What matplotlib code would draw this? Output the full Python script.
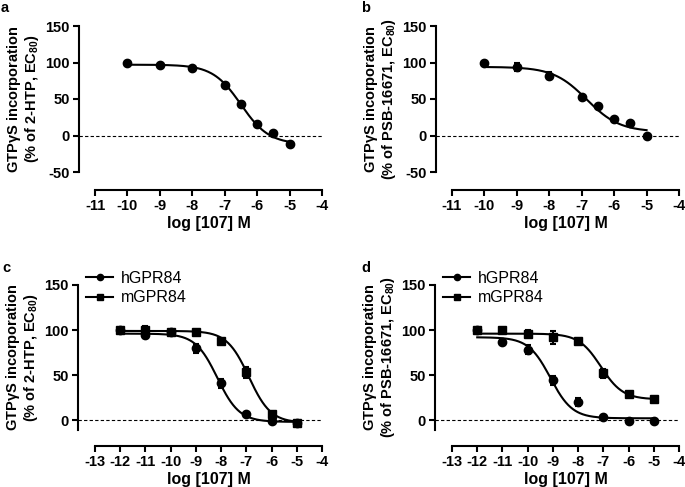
import numpy as np
import matplotlib
matplotlib.use("Agg")
import matplotlib.pyplot as plt

plt.rcParams['font.family'] = ['Liberation Sans', 'DejaVu Sans']
plt.rcParams['font.weight'] = 'bold'
plt.rcParams['mathtext.fontset'] = 'custom'
plt.rcParams['mathtext.bf'] = 'Liberation Sans:bold'
plt.rcParams['mathtext.rm'] = 'Liberation Sans'

# panel a: 2-HTP as agonist
a_x = [-10, -9, -8, -7, -6.5, -6, -5.5, -5]
a_y = [100, 97, 93, 69, 43, 16, 3, -12]
a_fit = [97, -12, -6.5, 1.0]  # top, bottom, logIC50, hill

# panel b: PSB-16671 as agonist
b_x = [-10, -9, -8, -7, -6.5, -6, -5.5, -5]
b_y = [100, 94, 82, 53, 40, 22, 17, 0]
b_err = [0, 5, 5, 0, 0, 0, 0, 0]
b_fit = [94, 5, -6.85, 0.85]

# panels c, d: human vs mouse
cd_x = [-12, -11, -10, -9, -8, -7, -6, -5]
c_h = [100, 95, 98, 80, 41, 7, -1, -3]
c_h_err = [0, 4, 0, 5, 5, 0, 0, 0]
c_m = [100, 100, 98, 98, 88, 53, 7, -3]
c_m_err = [0, 5, 0, 0, 0, 6, 0, 2]
c_h_fit = [96, -2, -8.15, 1.0]
c_m_fit = [99, -3, -6.9, 1.0]

d_h = [100, 87, 78, 44, 20, 3, -1, -1]
d_h_err = [0, 0, 5, 5, 4, 0, 0, 0]
d_m = [100, 100, 96, 92, 88, 52, 29, 23]
d_m_err = [0, 0, 4, 7, 0, 5, 0, 0]
d_h_fit = [92, 2, -9.1, 1.0]
d_m_fit = [96, 23, -7.1, 1.0]


def logistic(x, p):
    top, bottom, ic50, h = p
    return bottom + (top - bottom) / (1 + 10 ** ((x - ic50) * h))


W, H = 685, 487
fig = plt.figure(figsize=(W / 100, H / 100), dpi=100)


def make_ax(x0, x1, ytop, ybot, yspine, xspine_y, xlim, ylim, yticks, ylabel2):
    ax = fig.add_axes([x0 / W, 1 - ybot / H, (x1 - x0) / W, (ybot - ytop) / H])
    ax.set_xlim(*xlim)
    ax.set_ylim(*ylim)
    ax.spines['top'].set_visible(False)
    ax.spines['right'].set_visible(False)
    ax.spines['left'].set_position(('outward', (x0 - yspine) * 0.72))
    ax.spines['bottom'].set_position(('outward', (xspine_y - ybot) * 0.72))
    for s in ('left', 'bottom'):
        ax.spines[s].set_linewidth(1.5)
    ax.tick_params(width=1.5, length=4.5, labelsize=10.5, pad=2)
    ax.set_xticks(range(xlim[0], xlim[1] + 1))
    ax.set_yticks(yticks)
    ax.set_xticklabels([str(t) for t in range(xlim[0], xlim[1] + 1)], fontweight='bold')
    ax.set_yticklabels([str(t) for t in yticks], fontweight='bold')
    ax.set_xlabel("log [107] M", fontsize=11.5, fontweight='bold', labelpad=2)
    ax.set_ylabel("GTP$\\mathregular{\\gamma}$S incorporation\n(% of " + ylabel2 + ", EC$_\\mathbf{80}$)",
                  fontsize=10.5, fontweight='bold', linespacing=1.05, labelpad=3)
    frac = (yspine - x0) / (x1 - x0)
    ax.axhline(0, xmin=frac, xmax=1, color='black', lw=0.8, ls=(0, (3, 2)), clip_on=False, zorder=0)
    return ax


mk = dict(color='black', ms=6, capsize=2.5, elinewidth=1.5, capthick=1.5, ls='none')


def add_legend(ax):
    hh, = ax.plot([], [], 'o-', color='black', ms=4.5, lw=1.5)
    mh, = ax.plot([], [], 's-', color='black', ms=4.5, lw=1.5)
    ax.legend([hh, mh], ["hGPR84", "mGPR84"], loc='upper left', bbox_to_anchor=(-0.075, 1.155),
              frameon=False, handlelength=1.7, handletextpad=0.5, borderpad=0, labelspacing=0.3,
              prop={'size': 11.5, 'weight': 'normal'})


# a
ax = make_ax(95, 322, 26, 172, 79, 190, (-11, -4), (-50, 150), [-50, 0, 50, 100, 150], "2-HTP")
xs = np.linspace(-10, -5, 200)
ax.plot(xs, logistic(xs, a_fit), color='black', lw=1.5)
ax.plot(a_x, a_y, 'o', color='black', ms=6)

# b
ax = make_ax(452, 679, 26, 172, 436, 190, (-11, -4), (-50, 150), [-50, 0, 50, 100, 150], "PSB-16671")
ax.plot(xs, logistic(xs, b_fit), color='black', lw=1.5)
ax.errorbar(b_x, b_y, yerr=b_err, marker='o', **mk)

# c
xs2 = np.linspace(-12, -5, 300)
ax = make_ax(95, 322, 285, 430, 78, 446, (-13, -4), (-11, 150), [0, 50, 100, 150], "2-HTP")
ax.plot(xs2, logistic(xs2, c_h_fit), color='black', lw=1.5)
ax.plot(xs2, logistic(xs2, c_m_fit), color='black', lw=1.5)
ax.errorbar(cd_x, c_h, yerr=c_h_err, marker='o', **mk)
ax.errorbar(cd_x, c_m, yerr=c_m_err, marker='s', **mk)
add_legend(ax)

# d
ax = make_ax(452, 679, 285, 430, 435, 446, (-13, -4), (-11, 150), [0, 50, 100, 150], "PSB-16671")
ax.plot(xs2, logistic(xs2, d_h_fit), color='black', lw=1.5)
ax.plot(xs2, logistic(xs2, d_m_fit), color='black', lw=1.5)
ax.errorbar(cd_x, d_h, yerr=d_h_err, marker='o', **mk)
ax.errorbar(cd_x, d_m, yerr=d_m_err, marker='s', **mk)
add_legend(ax)

for lab, px, py in [("a", 1, 8), ("b", 361, 8), ("c", 2, 268), ("d", 361, 268)]:
    fig.text(px / W, 1 - py / H, lab, fontsize=10.5, fontweight='bold', va='center', ha='left')

fig.savefig("out.png", dpi=100)
